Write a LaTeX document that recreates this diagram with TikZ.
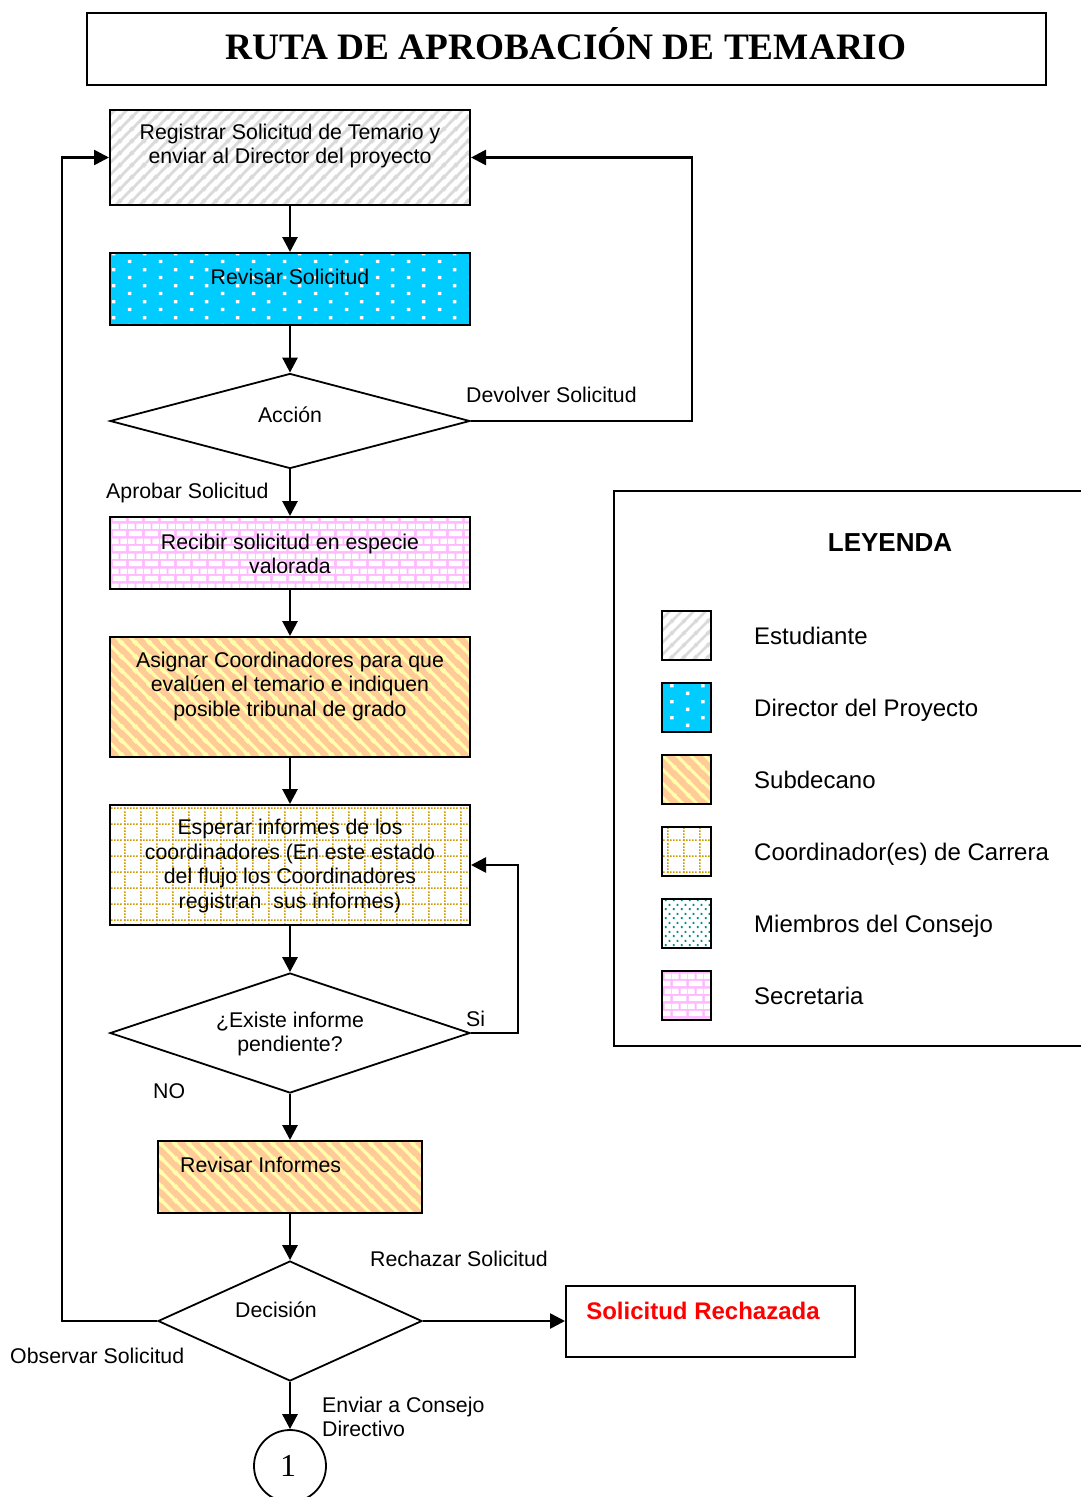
\documentclass[tikz,border=0pt]{standalone}
\usepackage{fontspec}
\setmainfont{Liberation Sans}
\newfontfamily\seriffont{Liberation Serif}
\usetikzlibrary{patterns.meta,arrows.meta,shapes.geometric}
\definecolor{cyanc}{RGB}{0,204,255}
\definecolor{grayc}{RGB}{218,218,218}
\definecolor{orangec}{RGB}{255,204,153}
\definecolor{yellowc}{RGB}{255,255,170}
\definecolor{goldc}{RGB}{204,153,0}
\definecolor{pinkc}{RGB}{255,185,255}
\definecolor{tealc}{RGB}{0,140,140}
\definecolor{redc}{RGB}{255,0,0}

\tikzdeclarepattern{
  name=stripesNE, type=uncolored,
  bounding box={(0pt,0pt) and (12pt,12pt)},
  tile size={(12pt,12pt)},
  code={
    \draw[line width=3pt] (-2pt,-2pt) -- (14pt,14pt);
    \draw[line width=3pt] (-2pt,10pt) -- (2pt,14pt);
    \draw[line width=3pt] (10pt,-2pt) -- (14pt,2pt);
  }
}
\tikzdeclarepattern{
  name=stripesNW, type=uncolored,
  bounding box={(0pt,0pt) and (13.5pt,13.5pt)},
  tile size={(13.5pt,13.5pt)},
  code={
    \draw[line width=3.2pt] (-2pt,15.5pt) -- (15.5pt,-2pt);
    \draw[line width=3.2pt] (-2pt,2pt) -- (2pt,-2pt);
    \draw[line width=3.2pt] (11.5pt,15.5pt) -- (15.5pt,11.5pt);
  }
}
\tikzdeclarepattern{
  name=sqdots, type=uncolored,
  bounding box={(0pt,0pt) and (31pt,16pt)},
  tile size={(31pt,16pt)},
  code={
    \fill (4pt,2pt) rectangle (7.5pt,5.5pt);
    \fill (19.5pt,10pt) rectangle (23pt,13.5pt);
  }
}
\tikzdeclarepattern{
  name=dotgrid, type=uncolored,
  bounding box={(0pt,0pt) and (15.5pt,16pt)},
  tile size={(15.5pt,16pt)},
  code={
    \draw[line width=1.5pt, dash pattern=on 1.55pt off 1.55pt] (0pt,1pt) -- (15.5pt,1pt);
    \draw[line width=1.5pt, dash pattern=on 1.6pt off 1.6pt] (1pt,0pt) -- (1pt,16pt);
  }
}
\tikzdeclarepattern{
  name=bricks, type=uncolored,
  bounding box={(0pt,0pt) and (16pt,15pt)},
  tile size={(16pt,15pt)},
  code={
    \fill (1pt,1pt) rectangle (15pt,6.5pt);
    \fill (9pt,8.5pt) rectangle (16pt,14pt);
    \fill (0pt,8.5pt) rectangle (7pt,14pt);
  }
}
\tikzdeclarepattern{
  name=smalldots, type=uncolored,
  bounding box={(0pt,0pt) and (8pt,8.6pt)},
  tile size={(8pt,8.6pt)},
  code={
    \fill (1pt,1pt) rectangle (3pt,3pt);
    \fill (5pt,5.3pt) rectangle (7pt,7.3pt);
  }
}

\begin{document}
\begin{tikzpicture}[x=1pt,y=-1pt,
  box/.style={draw, line width=2pt, inner sep=0pt},
  pgray/.style={preaction={fill=white}, pattern=stripesNE, pattern color=grayc},
  pcyan/.style={preaction={fill=cyanc}, pattern=sqdots, pattern color=white},
  porange/.style={preaction={fill=orangec}, pattern=stripesNW, pattern color=yellowc},
  pgrid/.style={preaction={fill=white}, pattern=dotgrid, pattern color=goldc},
  ppink/.style={preaction={fill=pinkc}, pattern=bricks, pattern color=white},
  pteal/.style={preaction={fill=white}, pattern=smalldots, pattern color=tealc},
  dia/.style={diamond, draw, line width=1.8pt, inner sep=0pt},
  arr/.style={line width=2.8pt, -{Triangle[length=15pt,width=15pt]}},
  lnk/.style={line width=2.6pt, -{Triangle[length=15pt,width=15pt]}},
  txt/.style={font=\fontsize{21.3}{24.5}\selectfont, inner sep=0pt, align=center},
  lbl/.style={font=\fontsize{21.3}{24.5}\selectfont, inner sep=0pt, text height=15.3pt, text depth=0pt},
  leg/.style={font=\fontsize{24}{28}\selectfont, inner sep=0pt, anchor=west, text height=17.3pt, text depth=0pt},
  sw/.style={box, minimum width=49pt, minimum height=49pt}
]
\useasboundingbox (0,0) rectangle (1081,1497);

% title
\node[box, minimum width=959pt, minimum height=72pt] (title) at (566.5,49) {};
\node[inner sep=0pt, font=\seriffont\bfseries\fontsize{37.3}{40}\selectfont, text height=25pt, text depth=0pt] (titletxt) at (566,47) {RUTA DE APROBACIÓN DE TEMARIO};

% boxes
\node[box, pgray, minimum width=360pt, minimum height=95pt] (b1) at (290,157.5) {};
\node[txt] (t1) at (290,146) {Registrar Solicitud de Temario y\\enviar al Director del proyecto};

\node[box, pcyan, minimum width=360pt, minimum height=72pt] (b2) at (290,289) {};
\node[lbl] (t2) at (290,277) {Revisar Solicitud};

\node[dia, minimum width=360pt, minimum height=95pt] (d1) at (290,421) {};
\node[lbl] (t3) at (290,415) {Acción};

\node[box, ppink, minimum width=360pt, minimum height=72pt] (b3) at (290,553) {};
\node[txt] (t4) at (290,554) {Recibir solicitud en especie\\valorada};

\node[box, porange, minimum width=360pt, minimum height=120pt] (b4) at (290,697) {};
\node[txt] (t5) at (290,686) {Asignar Coordinadores para que\\evalúen el temario e indiquen\\posible tribunal de grado};

\node[box, pgrid, minimum width=360pt, minimum height=120pt] (b5) at (290,865) {};
\node[txt] (t6) at (290,866) {Esperar informes de los\\coordinadores (En este estado\\del flujo los Coordinadores\\registran\ \ sus informes)};

\node[dia, minimum width=360pt, minimum height=120pt] (d2) at (290,1033) {};
\node[txt] (t7) at (290,1034) {¿Existe informe\\pendiente?};

\node[box, porange, minimum width=264pt, minimum height=72pt] (b6) at (290,1177) {};
\node[lbl, anchor=west] (t8) at (180,1165) {Revisar Informes};

\node[dia, minimum width=264pt, minimum height=120pt] (d3) at (290,1321) {};
\node[lbl] (t9) at (276,1310) {Decisión};

\node[box, minimum width=289pt, minimum height=71pt] (rej) at (710.5,1321) {};
\node[inner sep=0pt, font=\bfseries\fontsize{24}{28}\selectfont, text=redc, text height=17.3pt, text depth=0pt] (rejt) at (703,1311) {Solicitud Rechazada};

\node[circle, draw, line width=1.8pt, minimum size=72pt, inner sep=0pt] (c1) at (290,1466) {};
\node[inner sep=0pt, font=\seriffont\fontsize{32}{36}\selectfont, text height=21.6pt, text depth=0pt] (c1t) at (288,1466) {1};

% labels
\node[lbl, anchor=west] (l1) at (466,395) {Devolver Solicitud};
\node[lbl, anchor=west] (l2) at (106,491) {Aprobar Solicitud};
\node[lbl, anchor=west] (l3) at (466,1019) {Si};
\node[lbl, anchor=west] (l4) at (153,1091) {NO};
\node[lbl, anchor=west] (l5) at (370,1259) {Rechazar Solicitud};
\node[lbl, anchor=west] (l6) at (10,1356) {Observar Solicitud};
\node[txt, align=left, anchor=west] (l7) at (322,1417) {Enviar a Consejo\\Directivo};

% connectors
\coordinate (k1) at (692,421);
\coordinate (k2) at (518,1033);
\coordinate (k3) at (62,1321);
\draw[arr] (b1) -- (b2);
\draw[arr] (b2) -- (d1);
\draw[arr] (d1) -- (b3);
\draw[arr] (b3) -- (b4);
\draw[arr] (b4) -- (b5);
\draw[arr] (b5) -- (d2);
\draw[arr] (d2) -- (b6);
\draw[arr] (b6) -- (d3);
\draw[arr] (d3) -- (c1);
\draw[lnk] (d3.east) -- (rej.west);
\draw[lnk] (d1.east) -- (k1) |- (b1.east);
\draw[lnk] (d2.east) -- (k2) |- (b5.east);
\draw[lnk] (d3.west) -- (k3) |- (b1.west);

% legend
\draw[line width=2pt] (1090,491) -- (614,491) -- (614,1046) -- (1090,1046);
\node[inner sep=0pt, font=\bfseries\fontsize{26}{30}\selectfont, text height=18.7pt, text depth=0pt] (legt) at (890,542) {LEYENDA};
\node[sw, pgray] (s1) at (686.5,635.5) {};
\node[sw, pcyan] (s2) at (686.5,707.5) {};
\node[sw, porange] (s3) at (686.5,779.5) {};
\node[sw, pgrid] (s4) at (686.5,851.5) {};
\node[sw, pteal] (s5) at (686.5,923.5) {};
\node[sw, ppink] (s6) at (686.5,995.5) {};
\node[leg] (e1) at (754,636) {Estudiante};
\node[leg] (e2) at (754,708) {Director del Proyecto};
\node[leg] (e3) at (754,780) {Subdecano};
\node[leg] (e4) at (754,852) {Coordinador(es) de Carrera};
\node[leg] (e5) at (754,924) {Miembros del Consejo};
\node[leg] (e6) at (754,996) {Secretaria};
\end{tikzpicture}
\end{document}
